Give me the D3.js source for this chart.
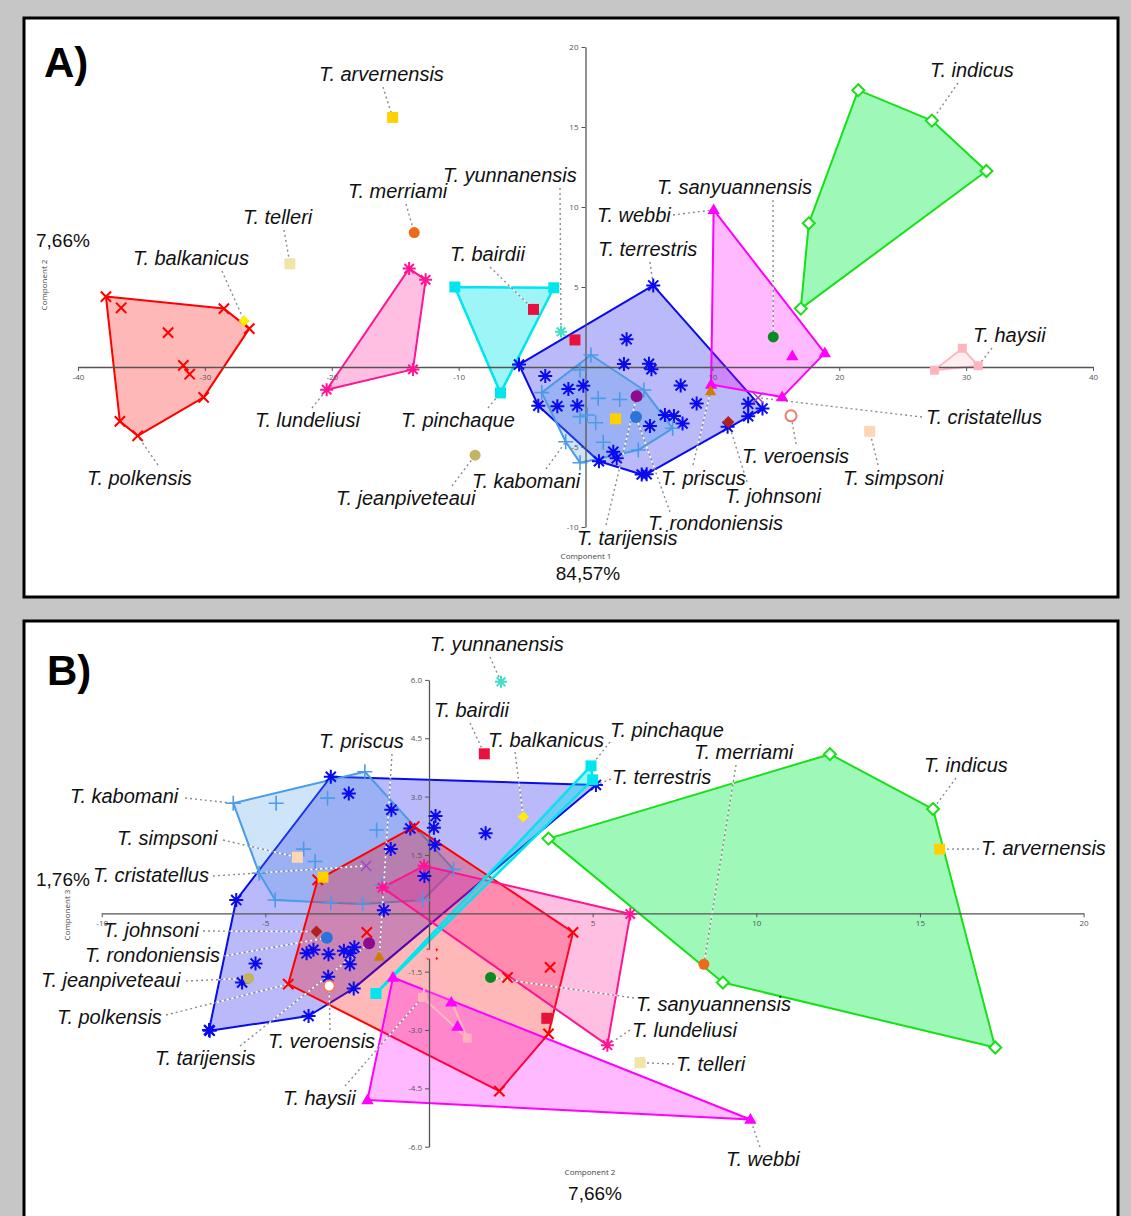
<!DOCTYPE html>
<html><head><meta charset="utf-8">
<script src="https://cdnjs.cloudflare.com/ajax/libs/d3/7.8.5/d3.min.js"></script>
<style>
body{margin:0;background:#c6c6c6;}
svg{display:block;}
text{font-family:"Liberation Sans",Arial,sans-serif;}
</style></head><body>
<svg id="chart" width="1131" height="1216"></svg>
<script>
// specimens: [component 1, component 2, component 3]
var terrestris = [[5.34,5.1,3.3],[3.24,1.73,2.06],[5.0,0.2,2.5],[3.03,0.18,1.76],[-5.24,0.15,2.2],[5.2,-0.14,0.96],
  [-3.17,-0.57,2.18],[7.5,-1.15,2.66],[-0.17,-1.17,1.65],[-1.35,-1.38,0.08],[8.76,-2.28,-0.87],[12.82,-2.3,-1.93],
  [-0.65,-2.4,-1.03],[-3.72,-2.42,-1.31],[-2.22,-2.45,3.08],[13.95,-2.6,-0.96],[6.26,-3.0,3.51],[6.97,-3.07,-1.05],
  [12.82,-3.08,-1.63],[7.65,-3.53,-0.94],[5.08,-3.68,-2.64],[11.2,-3.74,-1.03],[2.19,-5.3,-1.29],[2.46,-5.71,-1.78],
  [1.06,-5.89,0.34],[4.82,-6.7,-3.02],[4.43,-6.72,-3.0]];
var kabomani = [[0.43,0.75,1.13],[-0.43,-0.19,0.34],[4.6,-1.44,0.73],[-3.45,-1.6,2.14],[1.0,-1.96,3.64],[2.7,-2.03,0.24],
  [0.14,-3.0,0.27],[-0.43,-3.1,2.96],[0.8,-3.48,1.33],[6.87,-3.83,1.65],[-1.56,-4.67,2.83],[1.4,-4.7,0.34],
  [4.16,-5.19,1.03],[-0.43,-5.98,2.83]];
var polkensis = [[-37.8,4.4,-0.49],[-36.6,3.7,-1.39],[-28.5,3.65,-3.1],[-26.5,2.4,-1.65],[-32.9,2.15,-4.57],
  [-31.7,0.1,-1.05],[-31.2,-0.45,2.23],[-30.1,-1.9,-0.49],[-36.7,-3.4,0.86],[-35.3,-4.3,-1.82]];
var lundeliusi = [[-13.9,6.15,-0.02],[-12.6,5.45,-3.39],[-13.6,-0.15,1.22],[-20.4,-1.42,0.66]];
var pinchaque = [[-10.3,5.0,3.43],[-2.5,4.95,3.79],[-6.7,-1.62,-2.06]];
var webbi = [[10.1,9.82,-5.3],[9.9,-1.1,-1.65],[15.5,-1.88,-4.8],[16.3,0.68,-2.29],[18.86,0.87,-2.91]];
var indicus = [[21.5,17.3,-3.45],[27.3,15.4,2.68],[31.6,12.25,4.09],[17.6,8.98,-1.78],[16.97,3.65,1.92]];
var haysii = [[27.5,-0.2,-2.16],[29.7,1.17,-3.21],[30.95,0.08,-1.05]];
var arvernensis = [[-15.2,15.6,1.65],[2.37,-3.24,0.93]];
var bairdii = [[-4.1,3.6,-2.7],[-0.83,1.69,4.1]];
var yunnanensis = [[-1.93,2.2,5.95]];
var merriami = [[-13.5,8.4,-1.31]];
var telleri = [[-23.3,6.45,-3.84]];
var balkanicus = [[-26.9,2.88,2.48]];
var sanyuannensis = [[14.8,1.88,-1.65]];
var cristatellus = [[13.6,-1.92,1.22]];
var veroensis = [[16.2,-3.05,-1.87]];
var simpsoni = [[22.4,-4.02,1.44]];
var johnsoni = [[11.25,-3.44,-0.47]];
var priscus = [[9.86,-1.52,-1.12]];
var jeanpiveteaui = [[-8.7,-5.51,-1.67]];
var tarijensis = [[4.03,-1.83,-0.77]];
var rondoniensis = [[3.98,-3.12,-0.63]];

var tickA_x = [-40,-30,-20,-10,10,20,30,40], tickA_y = [-10,-5,5,10,15,20];
var tickB_x = [-10,-5,5,10,15,20], tickB_y = [-6,-4.5,-3,-1.5,1.5,3,4.5,6];

var species = [
  {key:"terrestris", pts:terrestris, sym:"star", col:"#0a0aee", r:7, hull:"#0a0aee", fill:"rgba(0,0,235,0.27)"},
  {key:"kabomani", pts:kabomani, sym:"plus", col:"#4b9be6", r:7.5, hull:"#4b9be6", fill:"rgba(75,155,230,0.27)"},
  {key:"polkensis", pts:polkensis, sym:"cross", col:"#ff0000", r:6.5, hull:"#ff0000", fill:"rgba(255,0,0,0.28)"},
  {key:"lundeliusi", pts:lundeliusi, sym:"star", col:"#ff1493", r:6.5, hull:"#ff1493", fill:"rgba(255,20,147,0.27)"},
  {key:"webbi", pts:webbi, sym:"triangle", col:"#ff00ff", r:6.5, hull:"#ff00ff", fill:"rgba(255,0,255,0.27)"},
  {key:"indicus", pts:indicus, sym:"diamondOpen", col:"#18e018", r:6, hull:"#18e018", fill:"rgba(0,240,70,0.38)"},
  {key:"haysii", pts:haysii, sym:"square", col:"#ffb3bd", r:4.5, hull:"#ffb8c2", fill:"rgba(255,180,190,0.22)"},
  {key:"pinchaque", pts:pinchaque, sym:"square", col:"#00e5ee", r:5.5, hull:"#00e5ee", fill:"rgba(0,230,235,0.38)"},
  {key:"arvernensis", pts:arvernensis, sym:"square", col:"#ffd000", r:5.5},
  {key:"bairdii", pts:bairdii, sym:"square", col:"#e8103c", r:5.5},
  {key:"yunnanensis", pts:yunnanensis, sym:"star", col:"#3ee0c8", r:6},
  {key:"merriami", pts:merriami, sym:"circle", col:"#ee6a1c", r:5.5},
  {key:"telleri", pts:telleri, sym:"square", col:"#f0e4a8", r:5.5},
  {key:"balkanicus", pts:balkanicus, sym:"diamond", col:"#ffee00", r:5.5},
  {key:"sanyuannensis", pts:sanyuannensis, sym:"circle", col:"#0c8a22", r:5.5},
  {key:"cristatellus", pts:cristatellus, sym:"cross", col:"#a347c9", r:6.5, w:1.5},
  {key:"veroensis", pts:veroensis, sym:"circleOpen", col:"#f07a6a", r:5.5},
  {key:"simpsoni", pts:simpsoni, sym:"square", col:"#ffd6b4", r:5.5},
  {key:"johnsoni", pts:johnsoni, sym:"diamond", col:"#b0201c", r:6},
  {key:"priscus", pts:priscus, sym:"triangle", col:"#d07c00", r:6},
  {key:"jeanpiveteaui", pts:jeanpiveteaui, sym:"circle", col:"#c4b462", r:5.5},
  {key:"tarijensis", pts:tarijensis, sym:"circle", col:"#8e0a8e", r:6},
  {key:"rondoniensis", pts:rondoniensis, sym:"circle", col:"#2a72dc", r:6}
];

// labels: [species, specimen, text, text x, text y, leader start x, leader start y]
var labelsA = [
  ["arvernensis",0,"T. arvernensis",319,81,383,87],
  ["yunnanensis",0,"T. yunnanensis",443,182,560,188],
  ["merriami",0,"T. merriami",348,198,406,204],
  ["telleri",0,"T. telleri",243,224,284,230],
  ["balkanicus",0,"T. balkanicus",133,265,222,271],
  ["bairdii",0,"T. bairdii",450,261,490,267],
  ["webbi",0,"T. webbi",597,222,673,215],
  ["sanyuannensis",0,"T. sanyuannensis",657,194,773,200],
  ["terrestris",0,"T. terrestris",598,256,650,262],
  ["indicus",1,"T. indicus",930,77,958,83],
  ["haysii",2,"T. haysii",973,342,992,348],
  ["cristatellus",0,"T. cristatellus",926,424,922,417],
  ["lundeliusi",3,"T. lundeliusi",255,427,312,408],
  ["pinchaque",2,"T. pinchaque",401,427,488,408],
  ["polkensis",9,"T. polkensis",87,485,158,465],
  ["jeanpiveteaui",0,"T. jeanpiveteaui",336,505,452,486],
  ["kabomani",10,"T. kabomani",472,488,546,469],
  ["priscus",0,"T. priscus",661,485,693,465],
  ["veroensis",0,"T. veroensis",742,463,796,444],
  ["simpsoni",0,"T. simpsoni",843,485,878,465],
  ["johnsoni",0,"T. johnsoni",725,503,747,482],
  ["rondoniensis",0,"T. rondoniensis",648,530,670,512],
  ["tarijensis",0,"T. tarijensis",577,545,606,525]
];
var labelsB = [
  ["yunnanensis",0,"T. yunnanensis",430,651,490,657],
  ["bairdii",1,"T. bairdii",434,717,470,723],
  ["priscus",0,"T. priscus",319,748,392,754],
  ["balkanicus",0,"T. balkanicus",488,747,515,752],
  ["pinchaque",1,"T. pinchaque",610,737,610,742],
  ["merriami",0,"T. merriami",694,759,736,765],
  ["terrestris",0,"T. terrestris",612,784,611,779],
  ["indicus",1,"T. indicus",924,772,956,778],
  ["kabomani",13,"T. kabomani",70,803,185,798],
  ["simpsoni",0,"T. simpsoni",117,845,223,840],
  ["arvernensis",0,"T. arvernensis",981,855,979,849],
  ["cristatellus",0,"T. cristatellus",93,882,213,876],
  ["johnsoni",0,"T. johnsoni",103,937,203,931],
  ["rondoniensis",0,"T. rondoniensis",85,962,224,956],
  ["jeanpiveteaui",0,"T. jeanpiveteaui",41,987,186,981],
  ["polkensis",9,"T. polkensis",57,1024,166,1015],
  ["tarijensis",0,"T. tarijensis",155,1065,240,1046],
  ["veroensis",0,"T. veroensis",268,1048,330,1030],
  ["haysii",0,"T. haysii",283,1105,345,1086],
  ["sanyuannensis",0,"T. sanyuannensis",636,1011,634,998],
  ["lundeliusi",1,"T. lundeliusi",632,1037,630,1030],
  ["telleri",0,"T. telleri",676,1071,674,1064],
  ["webbi",0,"T. webbi",726,1166,760,1147]
];

var svg = d3.select("#chart");
var byKey = {};
species.forEach(function (s) { byKey[s.key] = s; });

function symPath(type, r) {
  var a = r * 0.72, p = d3.path();
  if (type == "star") {
    p.moveTo(-r, 0); p.lineTo(r, 0); p.moveTo(0, -r); p.lineTo(0, r);
    p.moveTo(-a, -a); p.lineTo(a, a); p.moveTo(-a, a); p.lineTo(a, -a);
  } else if (type == "plus") {
    p.moveTo(-r, 0); p.lineTo(r, 0); p.moveTo(0, -r); p.lineTo(0, r);
  } else if (type == "cross") {
    p.moveTo(-a*1.1, -a*1.1); p.lineTo(a*1.1, a*1.1); p.moveTo(-a*1.1, a*1.1); p.lineTo(a*1.1, -a*1.1);
  } else if (type == "square") {
    p.rect(-r, -r, 2 * r, 2 * r);
  } else if (type == "triangle") {
    p.moveTo(0, -r); p.lineTo(r * 0.95, r * 0.65); p.lineTo(-r * 0.95, r * 0.65); p.closePath();
  } else if (type == "diamond" || type == "diamondOpen") {
    p.moveTo(0, -r); p.lineTo(r, 0); p.lineTo(0, r); p.lineTo(-r, 0); p.closePath();
  } else {
    p.arc(0, 0, r, 0, 2 * Math.PI);
  }
  return p.toString();
}

function drawPanel(cfg) {
  var g = svg.append("g");
  g.append("rect").attr("x", cfg.box[0]).attr("y", cfg.box[1]).attr("width", cfg.box[2]).attr("height", cfg.box[3])
    .attr("fill", "#fff").attr("stroke", "#000").attr("stroke-width", 3);

  var xs = cfg.x, ys = cfg.y, ix = cfg.ix, iy = cfg.iy;
  function px(p) { return [xs(p[ix]), ys(p[iy])]; }

  // convex hulls
  species.forEach(function (s) {
    if (!s.hull || s.pts.length < 3) return;
    var hull = d3.polygonHull(s.pts.map(px));
    g.append("path").attr("d", "M" + hull.join("L") + "Z")
      .attr("fill", s.fill).attr("stroke", s.hull).attr("stroke-width", s.key == "pinchaque" ? 2.5 : 2)
      .attr("stroke-linejoin", "round");
  });

  // axes through the origin
  var ax = g.append("g").attr("transform", "translate(0," + ys(0) + ")")
    .call(d3.axisBottom(xs).tickValues(cfg.tx).tickSize(4).tickSizeOuter(0).tickFormat(cfg.fx));
  var ay = g.append("g").attr("transform", "translate(" + xs(0) + ",0)")
    .call(d3.axisLeft(ys).tickValues(cfg.ty).tickSize(4).tickSizeOuter(0).tickFormat(cfg.fy));
  [ax, ay].forEach(function (a) {
    a.select(".domain").attr("stroke", "#555").attr("stroke-width", 1.3);
    a.selectAll(".tick line").attr("stroke", "#555");
    a.selectAll(".tick text").attr("fill", "#555").style("font-size", "8px").style("font-family", "'Open Sans',sans-serif");
  });

  // leader lines
  cfg.labels.forEach(function (l) {
    var t = px(byKey[l[0]].pts[l[1]]);
    g.append("line").attr("x1", l[5]).attr("y1", l[6]).attr("x2", t[0]).attr("y2", t[1])
      .attr("stroke", "#fff").attr("stroke-width", 1.6).attr("stroke-dasharray", "2,3").attr("stroke-dashoffset", 2.5);
    g.append("line").attr("x1", l[5]).attr("y1", l[6]).attr("x2", t[0]).attr("y2", t[1])
      .attr("stroke", "#8c8c8c").attr("stroke-width", 1.4).attr("stroke-dasharray", "2,3");
  });

  // markers
  species.forEach(function (s) {
    var line = s.sym == "star" || s.sym == "plus" || s.sym == "cross";
    g.selectAll(null).data(s.pts).enter().append("path")
      .attr("transform", function (d) { return "translate(" + px(d) + ")"; })
      .attr("d", symPath(s.sym, s.r))
      .attr("fill", line ? "none" : (s.sym == "diamondOpen" || s.sym == "circleOpen") ? "#fff" : s.col)
      .attr("stroke", line || s.sym == "diamondOpen" || s.sym == "circleOpen" ? s.col : "none")
      .attr("stroke-width", s.w || (s.sym == "plus" ? 1.6 : 2));
  });

  // species labels
  cfg.labels.forEach(function (l) {
    g.append("text").attr("x", l[3]).attr("y", l[4]).text(l[2])
      .style("font-size", "20px").style("font-style", "italic").attr("fill", "#111");
  });

  // axis titles and panel letter
  g.append("text").attr("x", cfg.cx[0]).attr("y", cfg.cx[1]).attr("text-anchor", "middle")
    .style("font-size", "8px").attr("fill", "#444").style("font-family", "'Open Sans',sans-serif").text(cfg.cx[2]);
  g.append("text").attr("x", cfg.px[0]).attr("y", cfg.px[1]).attr("text-anchor", "middle")
    .style("font-size", "19px").attr("fill", "#111").text(cfg.px[2]);
  g.append("text").attr("transform", "translate(" + cfg.cy[0] + "," + cfg.cy[1] + ") rotate(-90)")
    .attr("text-anchor", "middle").style("font-size", "8px").attr("fill", "#444")
    .style("font-family", "'Open Sans',sans-serif").text(cfg.cy[2]);
  g.append("text").attr("x", cfg.py[0]).attr("y", cfg.py[1])
    .style("font-size", "19px").attr("fill", "#111").text(cfg.py[2]);
  g.append("text").attr("x", cfg.letter[0]).attr("y", cfg.letter[1])
    .style("font-size", "42px").style("font-weight", "bold").attr("fill", "#000").text(cfg.letter[2]);
}

drawPanel({
  box: [24, 18, 1094, 579],
  x: d3.scaleLinear().domain([-40, 40]).range([78, 1093]),
  y: d3.scaleLinear().domain([-10, 20]).range([527, 47]),
  ix: 0, iy: 1,
  tx: tickA_x, ty: tickA_y,
  fx: function (d) { return String(d); }, fy: function (d) { return String(d); },
  labels: labelsA,
  cx: [586, 559, "Component 1"], px: [588, 580, "84,57%"],
  cy: [47, 285, "Component 2"], py: [36, 247, "7,66%"],
  letter: [44, 77, "A)"]
});

drawPanel({
  box: [24, 621, 1094, 605],
  x: d3.scaleLinear().domain([-10, 20]).range([101.7, 1083.6]),
  y: d3.scaleLinear().domain([-6, 6]).range([1146.7, 679.9]),
  ix: 1, iy: 2,
  tx: tickB_x, ty: tickB_y,
  fx: function (d) { return String(d); }, fy: function (d) { return d.toFixed(1); },
  labels: labelsB,
  cx: [590, 1175, "Component 2"], px: [595, 1200, "7,66%"],
  cy: [70, 915, "Component 3"], py: [36, 886, "1,76%"],
  letter: [47, 685, "B)"]
});
</script></body></html>
